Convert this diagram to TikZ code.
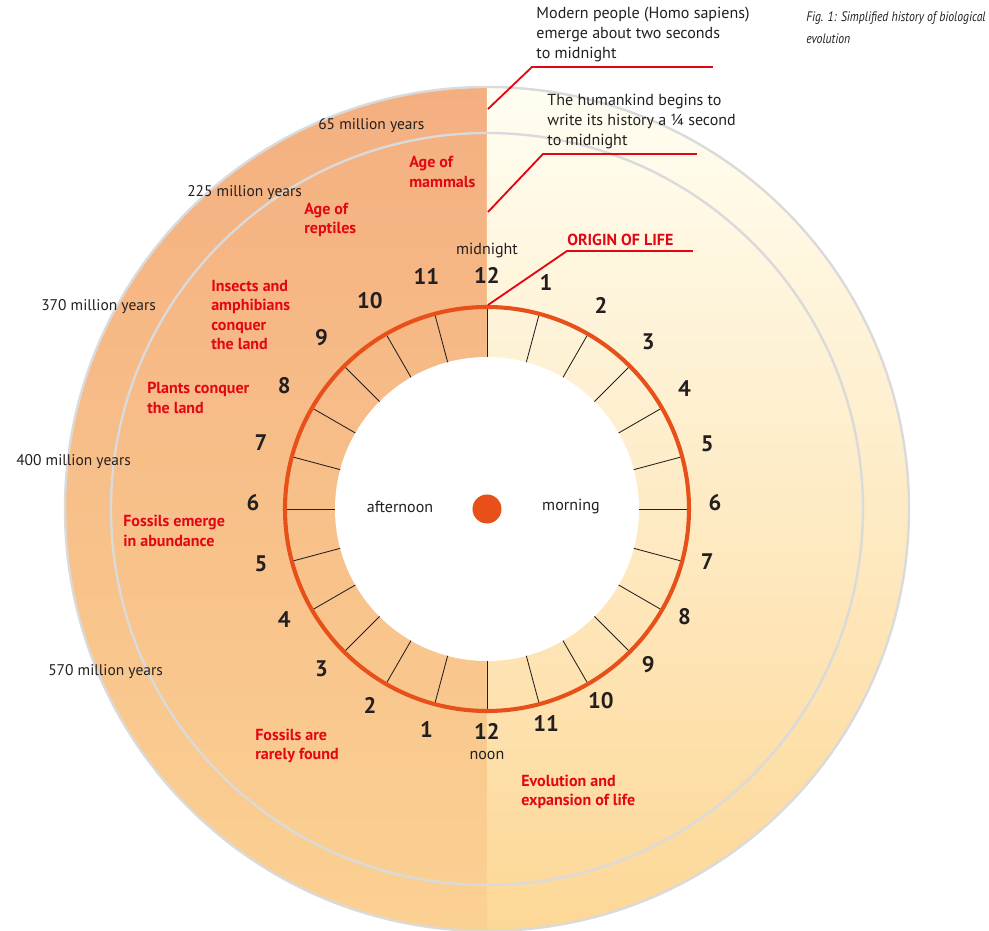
\documentclass[tikz,border=0pt]{standalone}
\usepackage{fontspec}
\setmainfont{PT Sans}
\newfontfamily\capfont[FakeStretch=0.85]{PT Sans}
\usetikzlibrary{positioning, calc}

\definecolor{evored}{RGB}{227,6,19}
\definecolor{ringorange}{RGB}{232,80,26}
\definecolor{pmtop}{RGB}{244,175,128}
\definecolor{pmbot}{RGB}{251,209,147}
\definecolor{amtop}{RGB}{255,254,242}
\definecolor{ambot}{RGB}{253,215,150}
\definecolor{rimgrey}{RGB}{218,218,218}
\definecolor{inkgrey}{RGB}{35,31,32}

\tikzset{
  era/.style={font=\fontsize{11.4}{13.9}\selectfont\bfseries, text=evored, align=left, anchor=west, inner sep=0pt},
  myr/.style={font=\fontsize{11}{12}\selectfont, text=inkgrey, anchor=west, inner sep=0pt},
  hour/.style={font=\fontsize{16}{16}\selectfont\bfseries, text=inkgrey, inner sep=0pt},
  daytime/.style={font=\fontsize{11.4}{12}\selectfont, text=inkgrey, inner sep=0pt},
  note/.style={font=\fontsize{11.4}{14.2}\selectfont, text=inkgrey, align=left, inner sep=0pt},
  leader/.style={evored, line width=1.3pt},
  rim/.style={rimgrey, line width=1.7pt},
}

\begin{document}
\begin{tikzpicture}[x=0.025cm, y=0.025cm]
    \useasboundingbox (-487,-422) rectangle (502,509);
    % Meitats del disc: tarda i mati
    \shade[top color=pmtop, bottom color=pmbot] (0,422) arc[start angle=90, end angle=270, radius=422] -- cycle;
    \shade[top color=amtop, bottom color=ambot] (0,422) arc[start angle=90, end angle=-90, radius=422] -- cycle;
    \draw[rim] (0,0) circle (422);
    \draw[rim] (0,0) circle (376);
    % Rellotge
    \fill[white] (0,0) circle (152);
    \foreach \a in {0,15,...,345}
        \draw[inkgrey, line width=0.6pt] (\a:152) -- (\a:201);
    \draw[ringorange, line width=2.9pt] (0,0) circle (202);
    \fill[ringorange] (0,0) circle (14.5);
    \coordinate (lc) at (0,6);
    \foreach \h in {1,...,11} {
        \node[hour] (am\h) at ($(lc)+({90-15*\h}:228)$) {\h};
        \node[hour] (pm\h) at ($(lc)+({270-15*\h}:234)$) {\h};
    }
    \node[hour] (top12) at (0,234) {12};
    \node[hour] (bot12) at (0,-222) {12};
    \node[daytime, above=6pt of top12] (midnight) {midnight};
    \node[daytime, below=8pt of bot12] (noon) {noon};
    \node[daytime] (afternoon) at (-87,2) {afternoon};
    \node[daytime] (morning) at (84,2) {morning};

    % Anotacions amb linia vermella
    \coordinate (s1) at (1,400);
    \coordinate (k1) at (45,442);
    \coordinate (e1) at (226,442);
    \node[note, above right=3.5pt and 3pt of k1] (modern) {Modern people (Homo sapiens)\\emerge about two seconds\\to midnight};
    \coordinate (s2) at (1,297);
    \coordinate (k2) at (56,355);
    \coordinate (e2) at (210,355);
    \node[note, above right=3.5pt and 3pt of k2] (history) {The humankind begins to\\write its history a ¼ second\\to midnight};
    \coordinate (s3) at (1,204);
    \coordinate (k3) at (80,258);
    \coordinate (e3) at (206,258);
    \node[era, above right=3.5pt and 0pt of k3, anchor=south west] (origin) {ORIGIN OF LIFE};
    \draw[leader] (s1) -- (k1) -- (e1);
    \draw[leader] (s2) -- (k2) -- (e2);
    \draw[leader] (s3) -- (k3) -- (e3);

    % Eres
    \node[era] (mammals) at (-78,337) {Age of\\mammals};
    \node[era] (reptiles) at (-183,289) {Age of\\reptiles};
    \node[era] (insects) at (-276,194) {Insects and\\amphibians\\conquer\\the land};
    \node[era] (plants) at (-340,111) {Plants conquer\\the land};
    \node[era] (abundance) at (-364,-22) {Fossils emerge\\in abundance};
    \node[era] (rarely) at (-232,-237) {Fossils are\\rarely found};
    \node[era] (expansion) at (34,-283) {Evolution and\\expansion of life};

    % Milions d'anys
    \node[myr] (m65) at (-169,383) {65 million years};
    \node[myr] (m225) at (-300,316) {225 million years};
    \node[myr] (m370) at (-446,202) {370 million years};
    \node[myr] (m400) at (-471,47) {400 million years};
    \node[myr] (m570) at (-439,-163) {570 million years};

    % Peu de figura
    \node[anchor=west, align=left, inner sep=0pt, text=inkgrey, font=\capfont\itshape\fontsize{9.8}{15.6}\selectfont] (caption) at (319,481) {Fig. 1: Simplified history of biological\\evolution};
\end{tikzpicture}
\end{document}
